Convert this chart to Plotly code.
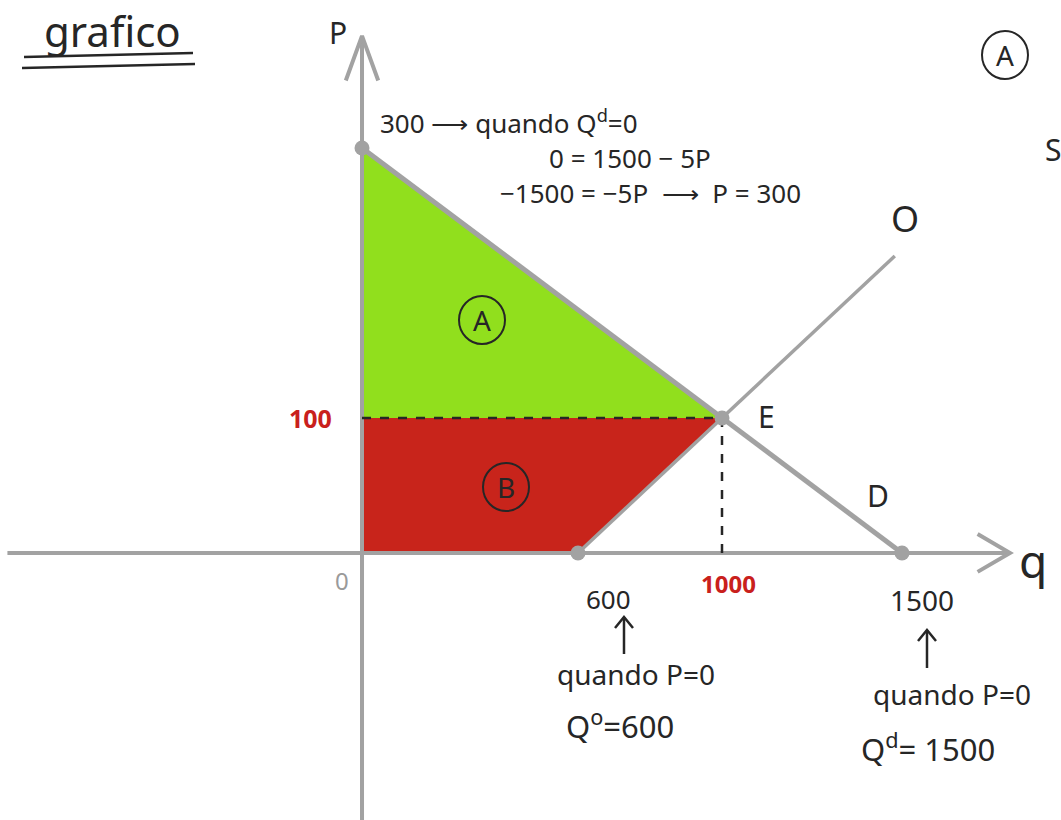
import plotly.graph_objects as go

# Market model: demand Qd = 1500 - 5P, supply Qo = 600 + 4P
demand_q = [0, 1000, 1500]
demand_p = [300, 100, 0]
supply_q = [600, 1000, 1480]
supply_p = [0, 100, 220]
eq_q, eq_p = 1000, 100
key_points_q = [0, 1000, 1500, 600]
key_points_p = [300, 100, 0, 0]

W, H = 1061, 820
X_RANGE = [-1005.6, 1941.7]
Y_RANGE = [-197.8, 409.6]

GRAY = "#a2a2a2"
INK = "#262626"
RED_INK = "#c9201c"
GREEN = "#91df1d"
RED = "#c8241b"
FONT = "Noto Sans"


def px(x, y):
    """Pixel position -> paper coordinates."""
    return x / W, 1 - y / H


fig = go.Figure()

# Consumer surplus (A)
fig.add_trace(go.Scatter(
    x=[0, 0, eq_q, 0], y=[demand_p[0], eq_p, eq_p, demand_p[0]],
    fill="toself", fillcolor=GREEN, line=dict(color=GREEN, width=0),
    mode="lines", hoverinfo="skip"))

# Producer surplus (B)
fig.add_trace(go.Scatter(
    x=[0, 0, eq_q, supply_q[0], 0], y=[0, eq_p, eq_p, 0, 0],
    fill="toself", fillcolor=RED, line=dict(color=RED, width=0),
    mode="lines", hoverinfo="skip"))

# Axes with open arrowheads
fig.add_trace(go.Scatter(x=[0, 0], y=[Y_RANGE[0], 383], mode="lines",
                         line=dict(color=GRAY, width=4), hoverinfo="skip"))
fig.add_trace(go.Scatter(x=[-45, 0, 45], y=[350, 383, 350], mode="lines",
                         line=dict(color=GRAY, width=4), hoverinfo="skip"))
fig.add_trace(go.Scatter(x=[-985, 1800], y=[0, 0], mode="lines",
                         line=dict(color=GRAY, width=4), hoverinfo="skip"))
fig.add_trace(go.Scatter(x=[1710, 1800, 1710], y=[14, 0, -14], mode="lines",
                         line=dict(color=GRAY, width=4), hoverinfo="skip"))

# Dashed guides to the equilibrium
fig.add_trace(go.Scatter(x=[0, eq_q], y=[eq_p, eq_p], mode="lines",
                         line=dict(color=INK, width=2.5, dash="dash"), hoverinfo="skip"))
fig.add_trace(go.Scatter(x=[eq_q, eq_q], y=[eq_p, 0], mode="lines",
                         line=dict(color=INK, width=2.5, dash="dash"), hoverinfo="skip"))

# Demand and supply curves
fig.add_trace(go.Scatter(x=demand_q, y=demand_p, mode="lines",
                         line=dict(color=GRAY, width=5), hoverinfo="skip"))
fig.add_trace(go.Scatter(x=supply_q, y=supply_p, mode="lines",
                         line=dict(color=GRAY, width=3.5), hoverinfo="skip"))

# Intercepts and equilibrium
fig.add_trace(go.Scatter(x=key_points_q, y=key_points_p, mode="markers",
                         marker=dict(color=GRAY, size=15), hoverinfo="skip"))

fig.update_xaxes(range=X_RANGE, visible=False, fixedrange=True)
fig.update_yaxes(range=Y_RANGE, visible=False, fixedrange=True)

ann = []


def note(text, x, y, size=28, color=INK, xanchor="center", yanchor="middle",
         ref="paper", xshift=0, yshift=0):
    if ref == "paper":
        xp, yp = px(x, y)
        xr, yr = "paper", "paper"
    else:
        xp, yp = x, y
        xr, yr = "x", "y"
    ann.append(dict(text=text, x=xp, y=yp, xref=xr, yref=yr,
                    showarrow=False, xanchor=xanchor, yanchor=yanchor,
                    xshift=xshift, yshift=yshift,
                    font=dict(family=FONT, size=size, color=color)))


def pen_line(points, width=2.5, color=INK):
    """Freehand-style polyline in pixel positions, drawn as a paper shape."""
    parts = []
    for i, (x, y) in enumerate(points):
        xp, yp = px(x, y)
        parts.append(("M" if i == 0 else "L") + f"{xp:.5f},{yp:.5f}")
    fig.add_shape(type="path", xref="paper", yref="paper", path=" ".join(parts),
                  line=dict(color=color, width=width))


def up_arrow(x, y_tail, y_head):
    pen_line([(x, y_tail), (x, y_head)])
    pen_line([(x - 9, y_head + 11), (x, y_head), (x + 9, y_head + 11)])


# Title with double underline
note("grafico", 112, 30, size=42)
pen_line([(24, 57), (193, 53)])
pen_line([(22, 68), (195, 64)])

# Axis names
note("P", 338, 32, size=30)
note("q", 1033, 560, size=46)

# Vertical intercept working
note("300 ⟶ quando Q<sup>d</sup>=0", 378, 122, size=26, xanchor="left")
note("0 = 1500 − 5P", 630, 158, size=26)
note("−1500 = −5P  ⟶  P = 300", 498, 193, size=26, xanchor="left")

# Curve / point labels
note("O", 905, 218, size=36)
note("E", 766, 416, size=30)
note("D", 878, 495, size=30)

# Circled surplus regions
for cx, cy, letter in [(482, 320, "A"), (506, 487, "B"), (1005, 55, "A")]:
    x0, y0 = px(cx - 23, cy - 24)
    x1, y1 = px(cx + 23, cy + 24)
    fig.add_shape(type="circle", xref="paper", yref="paper",
                  x0=x0, y0=y0, x1=x1, y1=y1, line=dict(color=INK, width=2))
    note(letter, cx, cy, size=28)
note("S", 1043, 150, size=30, xanchor="left")

# Axis values
note("<b>100</b>", 0, eq_p, size=25, color=RED_INK, xanchor="right", ref="data", xshift=-28)
note("0", 342, 580, size=24, color="#9a9a9a")
note("600", supply_q[0], 0, size=26, yanchor="top", ref="data", xshift=30, yshift=-26)
note("<b>1000</b>", eq_q, 0, size=24, color=RED_INK, yanchor="top", ref="data",
     xshift=6, yshift=-12)
note("1500", demand_q[-1], 0, size=28, yanchor="top", ref="data", xshift=20, yshift=-26)

# Horizontal intercept notes
up_arrow(624, 654, 617)
note("quando P=0", 636, 674, size=28)
note("Q<sup>o</sup>=600", 620, 724, size=31)
up_arrow(927, 668, 630)
note("quando P=0", 952, 694, size=28)
note("Q<sup>d</sup>= 1500", 928, 747, size=31)

fig.update_layout(
    width=W, height=H,
    margin=dict(l=0, r=0, t=0, b=0),
    paper_bgcolor="white", plot_bgcolor="white",
    showlegend=False,
    annotations=ann,
)

fig.write_html("out.html")
